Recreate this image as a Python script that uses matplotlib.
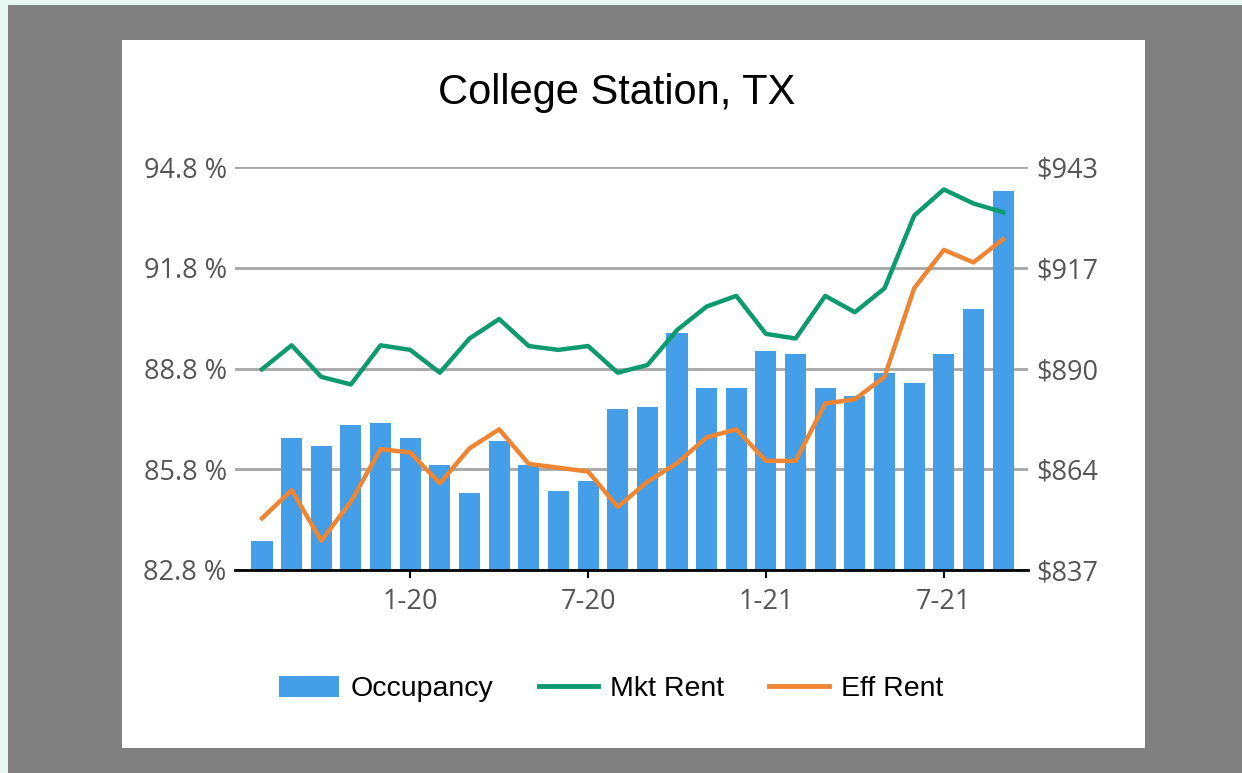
import matplotlib.pyplot as plt
from matplotlib.patches import Rectangle, Patch
from matplotlib.lines import Line2D
import numpy as np

# Monthly data, 8-19 through 9-21
months = ['8-19', '9-19', '10-19', '11-19', '12-19', '1-20', '2-20', '3-20', '4-20',
          '5-20', '6-20', '7-20', '8-20', '9-20', '10-20', '11-20', '12-20', '1-21',
          '2-21', '3-21', '4-21', '5-21', '6-21', '7-21', '8-21', '9-21']
shown_labels = ['1-20', '7-20', '1-21', '7-21']

occupancy = [83.67, 86.72, 86.49, 87.12, 87.19, 86.72, 85.94, 85.08, 86.65, 85.94,
             85.16, 85.46, 87.59, 87.66, 89.87, 88.22, 88.22, 89.31, 89.23, 88.22,
             87.98, 88.68, 88.38, 89.23, 90.56, 94.10]
mkt_rent = [889.8, 896.1, 887.8, 885.8, 896.1, 894.9, 888.9, 897.9, 903.0, 895.9,
            894.9, 895.9, 888.9, 890.9, 900.1, 906.3, 909.1, 899.1, 897.9, 909.1,
            904.8, 911.1, 930.2, 937.1, 933.4, 931.1]
eff_rent = [850.6, 858.0, 844.7, 855.0, 868.8, 867.9, 859.8, 869.0, 874.0, 864.9,
            863.9, 862.9, 853.6, 860.2, 865.1, 871.9, 874.0, 865.7, 865.7, 880.8,
            881.9, 887.8, 911.1, 921.2, 917.9, 924.0]

occ_ticks = [82.8, 85.8, 88.8, 91.8, 94.8]
rent_ticks = [837, 863.5, 890, 916.5, 943]
rent_labels = ['$837', '$864', '$890', '$917', '$943']

bar_color = '#449FE8'
mkt_color = '#0E9A6F'
eff_color = '#EE8532'
label_gray = '#555555'

W, H = 1242, 773
fig = plt.figure(figsize=(W / 100, H / 100), dpi=100)
fig.patch.set_facecolor('#808080')

# mint border strip (top and left) and the white panel
fig.patches.append(Rectangle((0, 1 - 5 / H), 1, 5 / H, transform=fig.transFigure,
                             facecolor='#E8F8F3', edgecolor='none', zorder=-5))
fig.patches.append(Rectangle((0, 0), 8 / W, 1, transform=fig.transFigure,
                             facecolor='#E8F8F3', edgecolor='none', zorder=-5))
fig.patches.append(Rectangle((122 / W, 1 - 748 / H), (1145 - 122) / W, (748 - 40) / H,
                             transform=fig.transFigure, facecolor='white',
                             edgecolor='none', zorder=-5))

ax = fig.add_axes([235 / W, 1 - 570 / H, (1028 - 235) / W, (570 - 167) / H])
ax.set_facecolor('none')
x = np.arange(len(months))

ax.bar(x, occupancy, width=0.71, color=bar_color, zorder=2)
ax.set_ylim(82.8, 94.8)
ax.set_xlim(-0.91, len(months) - 0.16)
ax.set_yticks(occ_ticks)
ax.set_yticklabels([f'{v:.1f} %' for v in occ_ticks])
ax.grid(axis='y', color='#A6A6A6', linewidth=2, zorder=0)
ax.set_axisbelow(True)

tick_pos = [months.index(m) for m in shown_labels]
ax.set_xticks(tick_pos)
ax.set_xticklabels(shown_labels)

for s in ['top', 'right', 'left']:
    ax.spines[s].set_visible(False)
ax.spines['bottom'].set_color('black')
ax.spines['bottom'].set_linewidth(2)
ax.spines['bottom'].set_zorder(5)

ax.tick_params(axis='y', length=0, pad=6, labelsize=19.5, labelcolor=label_gray)
ax.tick_params(axis='x', length=6, width=1.5, color='black', pad=7,
               labelsize=19.5, labelcolor=label_gray)

ax2 = ax.twinx()
ax2.plot(x, mkt_rent, color=mkt_color, linewidth=3.2, zorder=3)
ax2.plot(x, eff_rent, color=eff_color, linewidth=3.2, zorder=3)
ax2.set_ylim(837, 943)
ax2.set_yticks(rent_ticks)
ax2.set_yticklabels(rent_labels)
for s in ['top', 'right', 'left', 'bottom']:
    ax2.spines[s].set_visible(False)
ax2.tick_params(axis='y', length=0, pad=6, labelsize=19.5, labelcolor=label_gray)

for lab in ax.get_yticklabels() + ax.get_xticklabels() + ax2.get_yticklabels():
    lab.set_fontfamily('Open Sans')

fig.text(617 / W, 1 - 93 / H, 'College Station, TX', ha='center', va='center',
         fontsize=30, family='Liberation Sans', color='black')

handles = [Patch(facecolor=bar_color, edgecolor='none'),
           Line2D([], [], color=mkt_color, linewidth=3.5),
           Line2D([], [], color=eff_color, linewidth=3.5)]
fig.legend(handles, ['Occupancy', 'Mkt Rent', 'Eff Rent'], ncol=3,
           loc='center', bbox_to_anchor=(611 / W, 1 - 689 / H), frameon=False,
           prop={'family': 'Liberation Sans', 'size': 20.5},
           handlelength=2.1, handleheight=0.8, handletextpad=0.4,
           columnspacing=1.6)

fig.savefig('out.png', dpi=100, facecolor=fig.get_facecolor())
